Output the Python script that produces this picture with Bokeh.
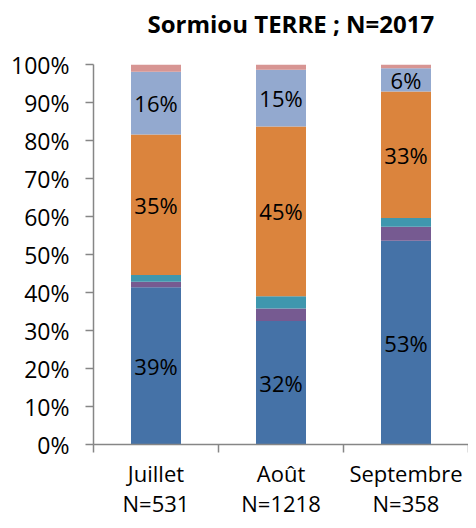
from bokeh.plotting import figure
from bokeh.models import ColumnDataSource, FixedTicker, Range1d, PrintfTickFormatter, Title
from bokeh.embed import file_html
from bokeh.resources import INLINE
from bokeh.core.properties import value

months = ["Juillet", "Août", "Septembre"]
counts = [531, 1218, 358]
title_text = "Sormiou TERRE ; N=2017"

# stacked segments, bottom to top (percent of each month)
blue = [41.4, 32.5, 53.6]
purple = [1.4, 3.3, 3.7]
teal = [1.8, 3.2, 2.3]
orange = [37.0, 44.7, 33.3]
lightblue = [16.5, 14.9, 6.1]
pink = [1.9, 1.4, 1.0]

blue_labels = ["39%", "32%", "53%"]
orange_labels = ["35%", "45%", "33%"]
lightblue_labels = ["16%", "15%", "6%"]

series_names = ["blue", "purple", "teal", "orange", "lightblue", "pink"]
series_values = [blue, purple, teal, orange, lightblue, pink]
colors = ["#4572A7", "#765A91", "#3F97AE", "#DB843D", "#93A9CF", "#D79593"]

FONT = "Open Sans"
AXIS_COLOR = "#868686"

xpos = [i + 0.5 for i in range(len(months))]
data = {"x": xpos}
for name, vals in zip(series_names, series_values):
    data[name] = vals
src = ColumnDataSource(data)

p = figure(width=468, height=520, output_backend="svg", toolbar_location=None,
           x_range=Range1d(0, len(months)), y_range=Range1d(0, 100),
           min_border_left=93, min_border_right=0, min_border_bottom=70,
           min_border_top=0)

p.vbar_stack(series_names, x="x", width=0.4, source=src, color=colors, line_color=None)

# data labels at segment centres
def centres(idx):
    out = []
    for j in range(len(months)):
        bottom = sum(series_values[k][j] for k in range(idx))
        out.append(bottom + series_values[idx][j] / 2)
    return out

for idx, labels in [(0, blue_labels), (3, orange_labels), (4, lightblue_labels)]:
    p.text(x=xpos, y=centres(idx), text=labels, text_align="center",
           text_baseline="middle", text_font=value(FONT), text_font_size="22px",
           text_color="black")

# spacer between title and frame, then the title itself (farther from frame)
p.add_layout(Title(text=" ", text_font_size="1px", standoff=14), "above")
p.add_layout(Title(text=title_text, text_font=FONT, text_font_size="24px",
                   text_font_style="bold", text_color="black", text_line_height=1.0,
                   vertical_align="top", align="left", offset=54, standoff=12), "above")

# axes
p.xgrid.visible = False
p.ygrid.visible = False
p.outline_line_color = None

ya = p.yaxis[0]
ya.ticker = FixedTicker(ticks=list(range(0, 101, 10)))
ya.formatter = PrintfTickFormatter(format="%d%%")
ya.major_tick_out = 8
ya.major_tick_in = 0
ya.minor_tick_line_color = None
ya.axis_line_color = AXIS_COLOR
ya.axis_line_width = 1.5
ya.major_tick_line_color = AXIS_COLOR
ya.major_tick_line_width = 1.5
ya.major_label_text_font = FONT
ya.major_label_text_font_size = "23px"
ya.major_label_text_color = "black"
ya.major_label_standoff = 16

xa = p.xaxis[0]
xa.ticker = FixedTicker(ticks=xpos, minor_ticks=list(range(len(months) + 1)))
xa.major_label_overrides = {x: f"{m}\nN={n}" for x, m, n in zip(xpos, months, counts)}
xa.major_tick_line_color = None
xa.minor_tick_line_color = AXIS_COLOR
xa.minor_tick_line_width = 1.5
xa.minor_tick_out = 8
xa.minor_tick_in = 0
xa.axis_line_color = AXIS_COLOR
xa.axis_line_width = 1.5
xa.major_label_text_font = FONT
xa.major_label_text_font_size = "22px"
xa.major_label_text_color = "black"
xa.major_label_text_line_height = 1.0
xa.major_label_standoff = 5

open("out.html", "w").write(file_html(p, INLINE))
